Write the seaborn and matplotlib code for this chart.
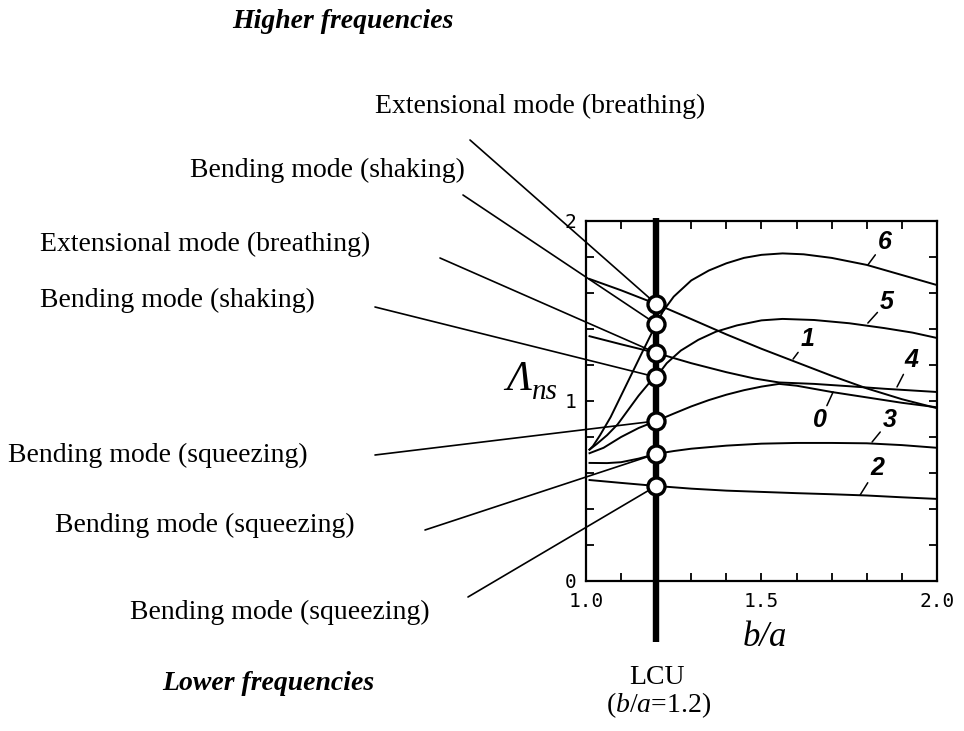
import numpy as np
import pandas as pd
import matplotlib
matplotlib.use("Agg")
import matplotlib.pyplot as plt
import seaborn as sns

# ---------------- data ----------------
c6_x = [1.01, 1.02, 1.04, 1.07, 1.10, 1.13, 1.16, 1.20, 1.22, 1.25, 1.30, 1.35, 1.40, 1.45, 1.50, 1.56, 1.62, 1.70, 1.80, 1.90, 2.00]
c6_y = [0.73, 0.75, 0.81, 0.91, 1.03, 1.15, 1.27, 1.428, 1.50, 1.58, 1.67, 1.725, 1.765, 1.795, 1.812, 1.82, 1.815, 1.795, 1.756, 1.70, 1.644]

c5_x = [1.01, 1.03, 1.06, 1.09, 1.12, 1.15, 1.18, 1.20, 1.23, 1.27, 1.32, 1.37, 1.43, 1.50, 1.56, 1.65, 1.75, 1.85, 1.93, 2.00]
c5_y = [0.73, 0.76, 0.81, 0.87, 0.95, 1.03, 1.10, 1.133, 1.21, 1.28, 1.34, 1.385, 1.42, 1.448, 1.456, 1.45, 1.432, 1.405, 1.38, 1.35]

c1_x = [1.01, 1.10, 1.20, 1.30, 1.40, 1.50, 1.60, 1.70, 1.80, 1.90, 2.00]
c1_y = [1.678, 1.615, 1.539, 1.455, 1.37, 1.29, 1.215, 1.14, 1.07, 1.01, 0.96]

c4_x = [1.01, 1.10, 1.20, 1.30, 1.40, 1.48, 1.55, 1.65, 1.75, 1.85, 2.00]
c4_y = [1.36, 1.315, 1.267, 1.21, 1.16, 1.125, 1.103, 1.095, 1.082, 1.068, 1.05]

c0_x = [1.01, 1.05, 1.10, 1.15, 1.20, 1.25, 1.30, 1.35, 1.40, 1.45, 1.50, 1.55, 1.60, 1.70, 1.80, 1.90, 2.00]
c0_y = [0.71, 0.74, 0.80, 0.85, 0.889, 0.93, 0.97, 1.005, 1.035, 1.06, 1.08, 1.095, 1.085, 1.05, 1.02, 0.99, 0.965]

c3_x = [1.01, 1.06, 1.10, 1.15, 1.20, 1.25, 1.30, 1.40, 1.50, 1.60, 1.70, 1.80, 1.90, 2.00]
c3_y = [0.656, 0.655, 0.66, 0.68, 0.706, 0.722, 0.735, 0.752, 0.763, 0.767, 0.767, 0.765, 0.755, 0.74]

c2_x = [1.01, 1.10, 1.20, 1.30, 1.40, 1.50, 1.60, 1.70, 1.80, 1.90, 2.00]
c2_y = [0.561, 0.545, 0.528, 0.513, 0.502, 0.495, 0.488, 0.482, 0.475, 0.465, 0.456]

curve_names = ["6", "5", "1", "4", "0", "3", "2"]
curve_xs = [c6_x, c5_x, c1_x, c4_x, c0_x, c3_x, c2_x]
curve_ys = [c6_y, c5_y, c1_y, c4_y, c0_y, c3_y, c2_y]

lcu_x = 1.2
circle_y = [1.539, 1.428, 1.267, 1.133, 0.889, 0.706, 0.528]
mode_labels = ["Extensional mode (breathing)", "Bending mode (shaking)",
               "Extensional mode (breathing)", "Bending mode (shaking)",
               "Bending mode (squeezing)", "Bending mode (squeezing)",
               "Bending mode (squeezing)"]

# curve label: (point on curve), (text position)
label_pts = {"6": ((1.803, 1.756), (1.852, 1.885)),
             "5": ((1.803, 1.433), (1.858, 1.552)),
             "1": ((1.590, 1.233), (1.632, 1.342)),
             "4": ((1.886, 1.078), (1.926, 1.230)),
             "0": ((1.704, 1.050), (1.667, 0.892)),
             "3": ((1.815, 0.772), (1.866, 0.894)),
             "2": ((1.781, 0.478), (1.829, 0.628))}

xtick_vals = [1.0, 1.5, 2.0]
xtick_text = ["1.0", "1.5", "2.0"]
ytick_vals = [0, 1, 2]
ytick_text = ["0", "1", "2"]

# ---------------- figure ----------------
W, H = 964, 731
fig = plt.figure(figsize=(W / 100, H / 100), dpi=100)
ax = fig.add_axes([586 / W, 1 - 581 / H, 351 / W, 360 / H])

def fp(x, y):
    return (x / W, 1 - y / H)

rows = []
for n, xs, ys in zip(curve_names, curve_xs, curve_ys):
    for x, y in zip(xs, ys):
        rows.append({"curve": n, "x": x, "y": y})
df = pd.DataFrame(rows)

sns.lineplot(data=df, x="x", y="y", hue="curve", units="curve", estimator=None,
             sort=False, palette={n: "black" for n in curve_names}, linewidth=1.4,
             legend=False, ax=ax)

# thick LCU line
ax.plot([lcu_x, lcu_x], [-0.34, 2.015], color="black", lw=4.6, clip_on=False,
        solid_capstyle="butt", zorder=5)

# circles
sns.scatterplot(x=[lcu_x] * len(circle_y), y=circle_y, s=150, facecolor="white",
                edgecolor="black", linewidth=2.4, zorder=10, ax=ax, clip_on=False)

ax.set_xlim(1.0, 2.0)
ax.set_ylim(0, 2)
ax.set_xlabel("")
ax.set_ylabel("")
for s in ax.spines.values():
    s.set_linewidth(1.6)
    s.set_visible(True)

xt = np.round(np.arange(1.0, 2.001, 0.1), 2)
yt = np.round(np.arange(0, 2.001, 0.2), 2)
ax.set_xticks(xt)
ax.set_xticklabels([xtick_text[xtick_vals.index(v)] if v in xtick_vals else "" for v in xt])
ax.set_yticks(yt)
ax.set_yticklabels([ytick_text[ytick_vals.index(v)] if v in ytick_vals else "" for v in yt])
ax.tick_params(direction="in", top=True, right=True, length=6, width=1.3, labelsize=14)
ax.tick_params(axis="x", pad=8)
ax.tick_params(axis="y", pad=7)
for t in ax.get_xticklabels() + ax.get_yticklabels():
    t.set_family("DejaVu Sans Mono")

# curve labels
for n, (pt, tp) in label_pts.items():
    ax.annotate(n, xy=pt, xytext=tp, fontsize=18, fontweight="bold", fontstyle="italic",
                family="Liberation Sans", ha="center", va="center",
                arrowprops=dict(arrowstyle="-", color="black", lw=1.1, shrinkA=0, shrinkB=0))

# mode annotation texts and leader lines
text_pos = [(375, 106), (190, 170), (40, 244), (40, 300), (8, 455), (55, 525), (130, 612)]
line_start = [(470, 140), (463, 195), (440, 258), (375, 307), (375, 455), (425, 530), (468, 597)]
for lab, tpos, ls, cy in zip(mode_labels, text_pos, line_start, circle_y):
    fig.text(*fp(*tpos), lab, fontsize=20, family="Liberation Serif", ha="left", va="center")
    ax.annotate("", xy=(lcu_x, cy), xycoords="data", xytext=fp(*ls),
                textcoords="figure fraction", annotation_clip=False,
                arrowprops=dict(arrowstyle="-", color="black", lw=1.2, shrinkA=0, shrinkB=0))

fig.text(*fp(232, 22), "Higher frequencies", fontsize=20, family="Liberation Serif",
         fontweight="bold", fontstyle="italic", ha="left", va="center")
fig.text(*fp(268, 683), "Lower frequencies", fontsize=20, family="Liberation Serif",
         fontweight="bold", fontstyle="italic", ha="center", va="center")

# axis label Lambda_ns
fig.text(*fp(506, 380), "Λ", fontsize=30, family="Liberation Serif", fontstyle="italic",
         ha="left", va="center")
fig.text(*fp(532, 392), "ns", fontsize=21, family="Liberation Serif", fontstyle="italic",
         ha="left", va="center")

fig.text(*fp(765, 637), "b/a", fontsize=25, family="Liberation Serif", fontstyle="italic",
         ha="center", va="center")

fig.text(*fp(657, 677), "LCU", fontsize=20, family="Liberation Serif", ha="center", va="center")
plt.rcParams["mathtext.fontset"] = "custom"
plt.rcParams["mathtext.it"] = "Liberation Serif:italic"
plt.rcParams["mathtext.rm"] = "Liberation Serif"
fig.text(*fp(659, 705), r"($\mathit{b/a}$=1.2)", fontsize=20, family="Liberation Serif",
         ha="center", va="center")

fig.savefig("out.png", dpi=100)
